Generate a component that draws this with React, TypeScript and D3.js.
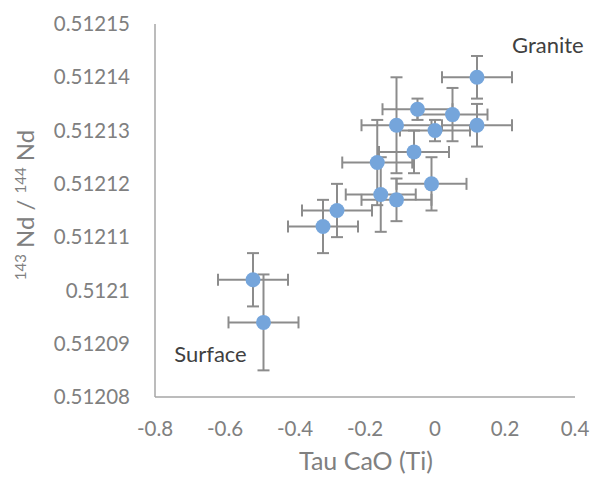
import React from "react";
import * as d3 from "d3";

const tauCaO = [0.12, -0.05, 0.05, -0.11, 0.0, 0.12, -0.06, -0.165, -0.155, -0.11, -0.01, -0.28, -0.32, -0.52, -0.49];
const ndRatio = [0.51214, 0.512134, 0.512133, 0.512131, 0.51213, 0.512131, 0.512126, 0.512124, 0.512118, 0.512117, 0.51212, 0.512115, 0.512112, 0.512102, 0.512094];
const ndError = [0.000004, 0.000002, 0.000005, 0.000009, 0.000002, 0.000004, 0.000004, 0.000008, 0.000007, 0.000004, 0.000005, 0.000005, 0.000005, 0.000005, 0.000009];
const tauError = [0.1, 0.1, 0.1, 0.1, 0.1, 0.1, 0.1, 0.1, 0.1, 0.1, 0.1, 0.1, 0.1, 0.1, 0.1];
const xTicks = [-0.8, -0.6, -0.4, -0.2, 0, 0.2, 0.4];
const yTicks = [0.51208, 0.51209, 0.5121, 0.51211, 0.51212, 0.51213, 0.51214, 0.51215];
const labels = [
  { text: "Granite", x: 0.22, y: 0.512146 },
  { text: "Surface", x: -0.745, y: 0.512088 },
];

const W = 594;
const H = 480;
const FONT = "Lato, 'Open Sans', sans-serif";

export default function App() {
  const x = d3.scaleLinear().domain([-0.8, 0.4]).range([155, 575]);
  const y = d3.scaleLinear().domain([0.51208, 0.51215]).range([397, 24]);
  const fmtX = (v: number) => d3.format("~g")(v).replace("\u2212", "-");
  const fmtY = (v: number) => d3.format(".5~f")(v);
  const cap = 6;
  const errColor = "#8c8c8c";
  const pts = tauCaO.map((t, i) => ({ t, n: ndRatio[i], en: ndError[i], et: tauError[i] }));

  return (
    <svg width={W} height={H} style={{ position: "absolute", left: 0, top: 0, background: "#fff" }} fontFamily={FONT}>
      <rect x={0} y={0} width={W} height={H} fill="#fff" />
      {/* axes */}
      <line x1={x(-0.8)} x2={x(-0.8)} y1={y(0.51215)} y2={y(0.51208)} stroke="#a6a6a6" strokeWidth={1.5} />
      <line x1={x(-0.8)} x2={x(0.4)} y1={y(0.51208)} y2={y(0.51208)} stroke="#a6a6a6" strokeWidth={1.5} />
      {yTicks.map((v) => (
        <text key={"y" + v} x={130} y={y(v)} dy="0.35em" textAnchor="end" fontSize={20.5} fill="#808080">
          {fmtY(v)}
        </text>
      ))}
      {xTicks.map((v) => (
        <text key={"x" + v} x={x(v)} y={429} dy="0.35em" textAnchor="middle" fontSize={20.5} fill="#808080">
          {fmtX(v)}
        </text>
      ))}
      <text x={x(-0.2) + 1} y={461} dy="0.35em" textAnchor="middle" fontSize={25} fill="#808080">
        Tau CaO (Ti)
      </text>
      <text transform={`translate(34,205) rotate(-90)`} textAnchor="middle" fontSize={24} fill="#808080">
        <tspan fontSize={15} dy="-8">143</tspan>
        <tspan dy="8"> Nd / </tspan>
        <tspan fontSize={15} dy="-8">144</tspan>
        <tspan dy="8"> Nd</tspan>
      </text>
      {/* error bars */}
      {pts.map((p, i) => (
        <g key={"e" + i} stroke={errColor} strokeWidth={2}>
          <line x1={x(p.t - p.et)} x2={x(p.t + p.et)} y1={y(p.n)} y2={y(p.n)} />
          <line x1={x(p.t - p.et)} x2={x(p.t - p.et)} y1={y(p.n) - cap} y2={y(p.n) + cap} />
          <line x1={x(p.t + p.et)} x2={x(p.t + p.et)} y1={y(p.n) - cap} y2={y(p.n) + cap} />
          <line x1={x(p.t)} x2={x(p.t)} y1={y(p.n + p.en)} y2={y(p.n - p.en)} />
          <line x1={x(p.t) - cap} x2={x(p.t) + cap} y1={y(p.n + p.en)} y2={y(p.n + p.en)} />
          <line x1={x(p.t) - cap} x2={x(p.t) + cap} y1={y(p.n - p.en)} y2={y(p.n - p.en)} />
        </g>
      ))}
      {pts.map((p, i) => (
        <circle key={"p" + i} cx={x(p.t)} cy={y(p.n)} r={7.5} fill="#75a5db" />
      ))}
      {labels.map((l) => (
        <text key={l.text} x={x(l.x)} y={y(l.y)} dy="0.35em" fontSize={22} fill="#404040">
          {l.text}
        </text>
      ))}
    </svg>
  );
}
